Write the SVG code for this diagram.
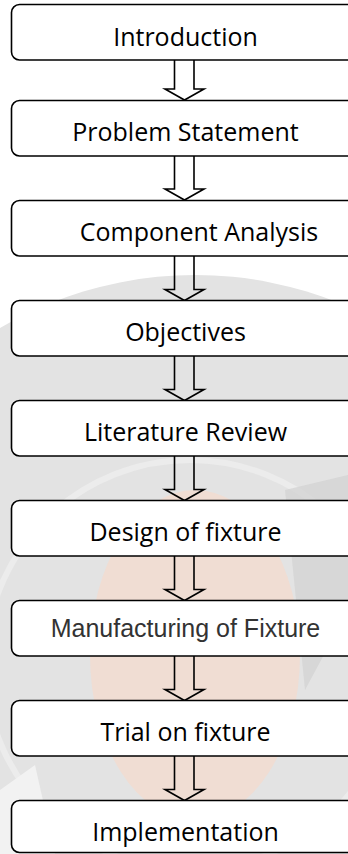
<svg xmlns="http://www.w3.org/2000/svg" width="348" height="854" viewBox="0 0 348 854">
  <defs>
    <style>
      .box { fill: #ffffff; stroke: #000000; stroke-width: 1.6; }
      .lbl { font-family: "Open Sans", "Liberation Sans", sans-serif; font-size: 25px; fill: #000000; text-anchor: middle; }
      .lbl2 { font-family: "Liberation Sans", Arial, sans-serif; font-size: 25px; fill: #333333; text-anchor: middle; }
      .arr { fill: none; stroke: #000000; stroke-width: 1.6; stroke-linejoin: miter; }
    </style>
  </defs>
  <rect x="0" y="0" width="348" height="854" fill="#ffffff"/>
  <g id="watermark">
    <circle cx="195" cy="660" r="385" fill="#e3e3e3"/>
    <circle cx="190" cy="665" r="205" fill="none" stroke="#ececec" stroke-width="6"/>
    <ellipse cx="195" cy="655" rx="105" ry="165" fill="#f0ddd3"/>
    <path d="M285 490 L348 475 L348 610 L305 690 Z" fill="#d2d2d2" opacity="0.7"/>
    <path d="M0 790 L35 765 L55 854 L0 854 Z" fill="#f2f2f2"/>
  </g>
  <g id="connectors">
    <path class="arr" d="M174.5 60 V89 H165 L184.5 100 L204 89 H194 V60"/>
    <path class="arr" d="M174.5 156 V189 H165 L184.5 200 L204 189 H194 V156"/>
    <path class="arr" d="M174.5 256 V289.5 H165 L184.5 300.5 L204 289.5 H194 V256"/>
    <path class="arr" d="M174.5 356 V389.5 H165 L184.5 400.5 L204 389.5 H194 V356"/>
    <path class="arr" d="M174.5 456 V489.5 H165 L184.5 500.5 L204 489.5 H194 V456"/>
    <path class="arr" d="M174.5 556 V589.5 H165 L184.5 600.5 L204 589.5 H194 V556"/>
    <path class="arr" d="M174.5 656 V689.5 H165 L184.5 700.5 L204 689.5 H194 V656"/>
    <path class="arr" d="M174.5 756 V789.5 H165 L184.5 800.5 L204 789.5 H194 V756"/>
  </g>
  <g id="n1"><rect class="box" x="11.5" y="4.5" width="400" height="55.5" rx="8"/><text class="lbl" x="185.5" y="45.5">Introduction</text></g>
  <g id="n2"><rect class="box" x="11.5" y="100.5" width="400" height="55.5" rx="8"/><text class="lbl" x="185.5" y="141">Problem Statement</text></g>
  <g id="n3"><rect class="box" x="11.5" y="200.5" width="400" height="55.5" rx="8"/><text class="lbl" x="199" y="241">Component Analysis</text></g>
  <g id="n4"><rect class="box" x="11.5" y="300.5" width="400" height="55.5" rx="8"/><text class="lbl" x="185.5" y="341">Objectives</text></g>
  <g id="n5"><rect class="box" x="11.5" y="400.5" width="400" height="55.5" rx="8"/><text class="lbl" x="185.5" y="441">Literature Review</text></g>
  <g id="n6"><rect class="box" x="11.5" y="500.5" width="400" height="55.5" rx="8"/><text class="lbl" x="185.5" y="541">Design of fixture</text></g>
  <g id="n7"><rect class="box" x="11.5" y="600.5" width="400" height="55.5" rx="8"/><text class="lbl2" x="185.5" y="636.5">Manufacturing of Fixture</text></g>
  <g id="n8"><rect class="box" x="11.5" y="700.5" width="400" height="55.5" rx="8"/><text class="lbl" x="185.5" y="741">Trial on fixture</text></g>
  <g id="n9"><rect class="box" x="11.5" y="800.5" width="400" height="52" rx="8"/><text class="lbl" x="185.5" y="841">Implementation</text></g>
</svg>
